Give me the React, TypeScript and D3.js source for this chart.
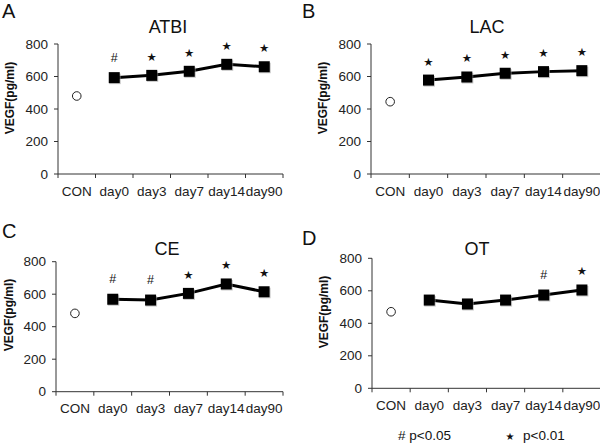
import React from "react";
import * as d3 from "d3";

const categories = ["CON", "day0", "day3", "day7", "day14", "day90"];
const yTicks = [0, 200, 400, 600, 800];

const atbiValues = [480, 593, 607, 632, 675, 660];
const lacValues = [445, 578, 597, 620, 630, 636];
const ceValues = [482, 569, 564, 605, 663, 615];
const otValues = [471, 543, 519, 543, 574, 605];

const atbiSig = ["", "#", "*", "*", "*", "*"];
const lacSig = ["", "*", "*", "*", "*", "*"];
const ceSig = ["", "#", "#", "*", "*", "*"];
const otSig = ["", "", "", "", "#", "*"];

const FONT = "'Liberation Sans', Arial, Helvetica, sans-serif";
const STARFONT = "'DejaVu Sans', sans-serif";

type PanelProps = {
  letter: string;
  title: string;
  values: number[];
  sig: string[];
  x0: number;
  x1: number;
  yTop: number;
  yBottom: number;
  titleX: number;
  titleY: number;
  letterX: number;
  letterY: number;
  ylabX: number;
  ylabY: number;
  xlabY: number;
};

function Panel(p: PanelProps) {
  const x = d3.scaleBand<string>().domain(categories).range([p.x0, p.x1]).padding(0);
  const y = d3.scaleLinear().domain([0, 800]).range([p.yBottom, p.yTop]);
  const cx = (c: string) => (x(c) as number) + x.bandwidth() / 2;
  const pts = categories.slice(1).map((c, i) => [cx(c), y(p.values[i + 1])] as [number, number]);
  const line = d3.line()(pts) || "";
  const bounds = d3.range(categories.length + 1).map((i) => p.x0 + i * x.bandwidth());
  return (
    <g>
      <text x={p.letterX} y={p.letterY} fontSize={20} fontFamily={FONT} fill="#111">{p.letter}</text>
      <text x={p.titleX} y={p.titleY} fontSize={18} fontFamily={FONT} textAnchor="middle" fill="#111">{p.title}</text>
      <text
        transform={`translate(${p.ylabX},${p.ylabY}) rotate(-90)`}
        fontSize={12}
        fontWeight="bold"
        fontFamily={FONT}
        textAnchor="middle"
        dominantBaseline="central"
        fill="#111"
      >VEGF(pg/ml)</text>
      {/* y axis */}
      <line x1={p.x0} x2={p.x0} y1={p.yTop} y2={p.yBottom} stroke="#333" strokeWidth={1} />
      {yTicks.map((t) => (
        <g key={t}>
          <line x1={p.x0 - 4} x2={p.x0} y1={y(t)} y2={y(t)} stroke="#333" strokeWidth={1} />
          <text x={p.x0 - 10} y={y(t)} fontSize={13.5} fontFamily={FONT} textAnchor="end" dominantBaseline="central" fill="#222">{t}</text>
        </g>
      ))}
      {/* x axis */}
      <line x1={p.x0} x2={p.x1} y1={p.yBottom} y2={p.yBottom} stroke="#333" strokeWidth={1} />
      {bounds.map((b, i) => (
        <line key={i} x1={b} x2={b} y1={p.yBottom} y2={p.yBottom + 4} stroke="#333" strokeWidth={1} />
      ))}
      {categories.map((c) => (
        <text key={c} x={cx(c)} y={p.xlabY} fontSize={13.5} fontFamily={FONT} textAnchor="middle" fill="#222">{c}</text>
      ))}
      {/* control point */}
      <circle cx={cx(categories[0])} cy={y(p.values[0])} r={4.3} fill="#fff" stroke="#222" strokeWidth={1} />
      {/* series */}
      <path d={line} fill="none" stroke="#000" strokeWidth={3} />
      {pts.map(([px, py], i) => (
        <g key={i}>
          <rect x={px - 5} y={py - 4} width={11.5} height={10.5} fill="#999" opacity={0.55} />
          <rect x={px - 5.5} y={py - 5.5} width={11} height={11} fill="#000" />
        </g>
      ))}
      {p.sig.map((s, i) => {
        if (!s) return null;
        const px = cx(categories[i]);
        const py = y(p.values[i]);
        if (s === "#") {
          return <text key={i} x={px} y={py - 16} fontSize={12.5} fontFamily={FONT} textAnchor="middle" fill="#111">#</text>;
        }
        return <text key={i} x={px} y={py - 14.5} fontSize={11.5} fontFamily={STARFONT} textAnchor="middle" fill="#111">★</text>;
      })}
    </g>
  );
}

export default function App() {
  return (
    <svg width={600} height={443} style={{ position: "absolute", left: 0, top: 0, background: "#fff" }}>
      <rect width={600} height={443} fill="#fff" />
      <Panel letter="A" title="ATBI" values={atbiValues} sig={atbiSig}
        x0={58} x1={283} yTop={44} yBottom={174}
        titleX={168} titleY={33} letterX={2} letterY={18} ylabX={10} ylabY={98} xlabY={196} />
      <Panel letter="B" title="LAC" values={lacValues} sig={lacSig}
        x0={371} x1={601} yTop={44} yBottom={174}
        titleX={487} titleY={33} letterX={302} letterY={18} ylabX={323} ylabY={98} xlabY={196} />
      <Panel letter="C" title="CE" values={ceValues} sig={ceSig}
        x0={56} x1={283} yTop={261.7} yBottom={391.7}
        titleX={167} titleY={255} letterX={2} letterY={238} ylabX={9} ylabY={315} xlabY={413} />
      <Panel letter="D" title="OT" values={otValues} sig={otSig}
        x0={372} x1={601} yTop={258.3} yBottom={388.3}
        titleX={477} titleY={255} letterX={302} letterY={245} ylabX={324} ylabY={312} xlabY={410} />
      {/* legend */}
      <text x={398} y={440} fontSize={13.5} fontFamily={FONT} fill="#111"># p&lt;0.05</text>
      <text x={510} y={440} fontSize={10} fontFamily={STARFONT} textAnchor="middle" fill="#111">★</text>
      <text x={523} y={440} fontSize={13.5} fontFamily={FONT} fill="#111">p&lt;0.01</text>
    </svg>
  );
}
